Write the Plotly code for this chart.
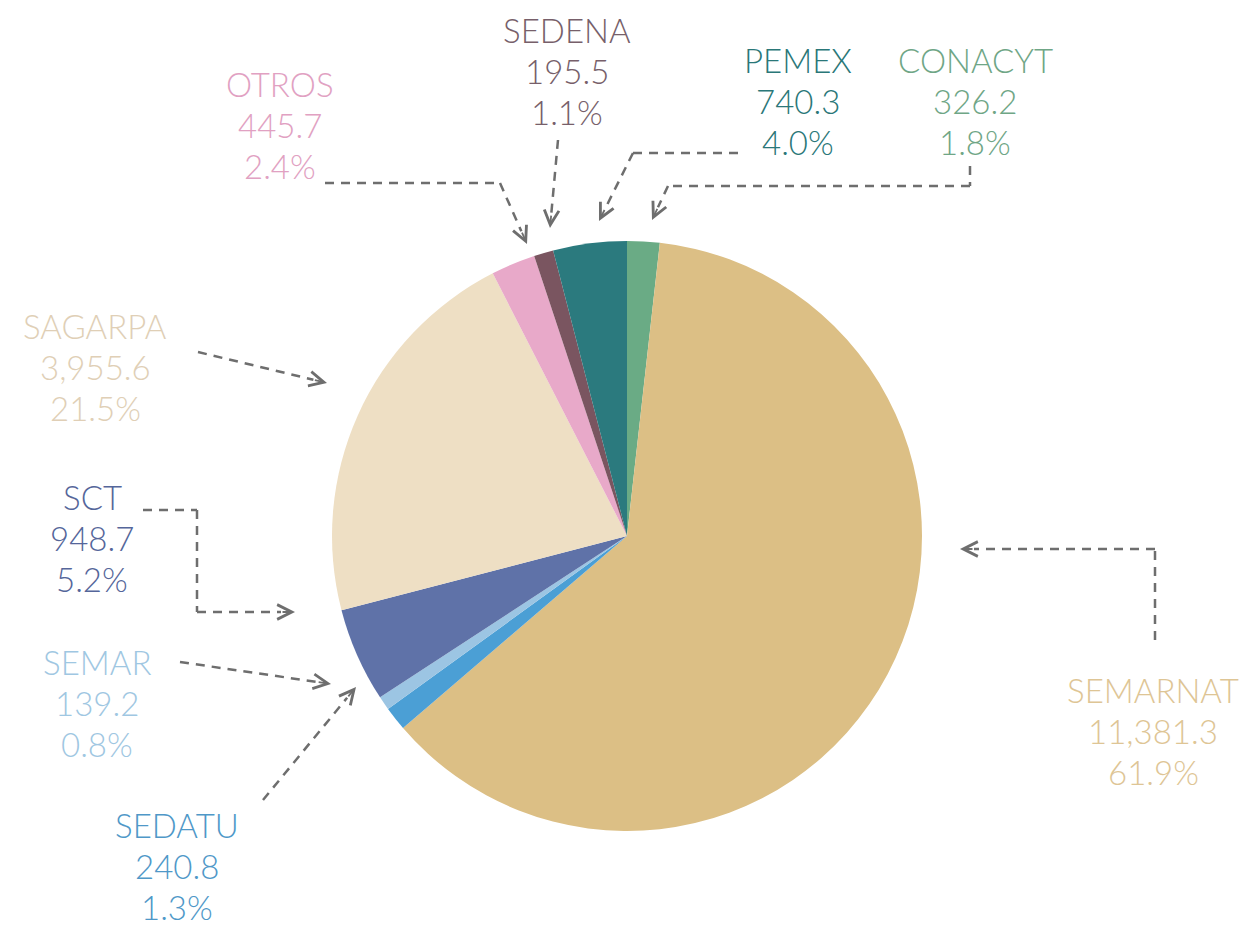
import plotly.graph_objects as go

# ---------------- data ----------------
labels = ["CONACYT", "SEMARNAT", "SEDATU", "SEMAR", "SCT", "SAGARPA", "OTROS", "SEDENA", "PEMEX"]
values = [326.2, 11381.3, 240.8, 139.2, 948.7, 3955.6, 445.7, 195.5, 740.3]
pct_labels = ["1.8%", "61.9%", "1.3%", "0.8%", "5.2%", "21.5%", "2.4%", "1.1%", "4.0%"]

# ---------------- styles ----------------
slice_colors = ["#6AAB85", "#DCBF85", "#4B9FD5", "#9CC5E3", "#5F72A8",
                "#EEDFC4", "#E8A9C9", "#7A5560", "#2B7A7E"]
text_colors = ["#6FA686", "#DEC595", "#4F98C8", "#9FC7E2", "#55669A",
               "#E0CFB6", "#E1A1C2", "#775F6A", "#2A7778"]

W, H = 1248, 927
CX, CY, R = 627, 536, 295
ARROW = "#6E6E6E"
LINE_GAP = 41
FONT_SIZE = 33

# label block centres (pixels, middle line)
label_pos = {
    "CONACYT": (975, 101), "SEMARNAT": (1153, 731), "SEDATU": (177, 866),
    "SEMAR": (97, 703), "SCT": (92, 538), "SAGARPA": (95, 367),
    "OTROS": (280, 125), "SEDENA": (567, 71), "PEMEX": (798, 101),
}
# leader paths (pixels), last point = arrow tip
leaders = {
    "CONACYT": [(970, 166), (970, 186), (668, 186), (652, 220)],
    "SEMARNAT": [(1155, 640), (1155, 549), (960, 549)],
    "SEDATU": [(263, 800), (356, 687)],
    "SEMAR": [(180, 662), (331, 684)],
    "SCT": [(143, 510), (197, 510), (197, 612), (295, 612)],
    "SAGARPA": [(198, 352), (327, 383)],
    "OTROS": [(325, 183), (500, 183), (527, 244)],
    "SEDENA": [(558, 140), (550, 228)],
    "PEMEX": [(738, 153), (633, 153), (599, 221)],
}

fig = go.Figure()

fig.add_trace(go.Pie(
    labels=labels, values=values, sort=False, direction="clockwise", rotation=0,
    marker=dict(colors=slice_colors, line=dict(width=0)),
    textinfo="none", hoverinfo="label+value+percent", showlegend=False,
    domain=dict(x=[(CX - R) / W, (CX + R) / W], y=[1 - (CY + R) / H, 1 - (CY - R) / H]),
))

shapes = []
annotations = []
HEAD = 14
for i, lab in enumerate(labels):
    x, y = label_pos[lab]
    lines = [lab, f"{values[i]:,.1f}", pct_labels[i]]
    for k, t in enumerate(lines):
        annotations.append(dict(
            x=x, y=y + (k - 1) * LINE_GAP, xref="x", yref="y", showarrow=False, text=t,
            font=dict(family="Lato", size=FONT_SIZE, color=text_colors[i], weight=300),
            xanchor="center", yanchor="middle",
        ))
    pts = leaders[lab]
    (xa, ya), (xt, yt) = pts[-2], pts[-1]
    dx, dy = xt - xa, yt - ya
    L = (dx * dx + dy * dy) ** 0.5
    ux, uy = dx / L, dy / L
    seg_pts = pts[:-1] + [(xt - ux * HEAD, yt - uy * HEAD)]
    for (x0, y0), (x1, y1) in zip(seg_pts[:-1], seg_pts[1:]):
        shapes.append(dict(type="line", xref="x", yref="y", x0=x0, y0=y0, x1=x1, y1=y1,
                           line=dict(color=ARROW, width=2.5, dash="9px,7px")))
    annotations.append(dict(
        x=xt, y=yt, xref="x", yref="y", ax=xt - ux * HEAD, ay=yt - uy * HEAD,
        axref="x", ayref="y", text="", showarrow=True, arrowhead=5,
        arrowsize=1.6, arrowwidth=1.8, arrowcolor=ARROW, standoff=0, startstandoff=0,
    ))

fig.update_layout(
    width=W, height=H, margin=dict(l=0, r=0, t=0, b=0),
    paper_bgcolor="white", plot_bgcolor="rgba(0,0,0,0)",
    xaxis=dict(range=[0, W], visible=False, fixedrange=True),
    yaxis=dict(range=[H, 0], visible=False, fixedrange=True),
    shapes=shapes, annotations=annotations,
)

fig.write_html("out.html", config={"displayModeBar": False},
               post_script="document.body.style.margin='0px';")
